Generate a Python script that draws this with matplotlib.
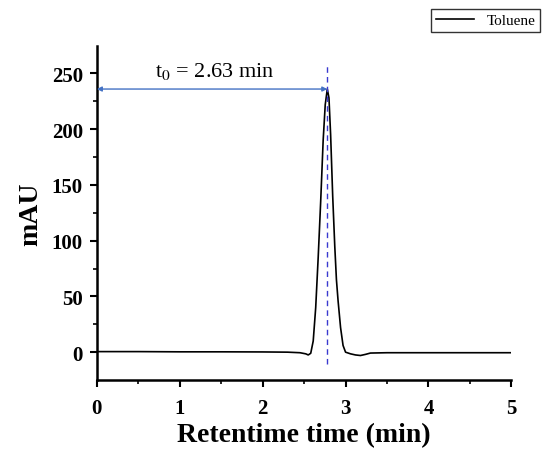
import numpy as np
import matplotlib.pyplot as plt

# chromatogram
time = [0.0, 0.5, 1.0, 1.5, 2.0, 2.3, 2.45, 2.52, 2.55, 2.58, 2.61, 2.64, 2.67,
        2.70, 2.73, 2.755, 2.78, 2.80, 2.82, 2.845, 2.87, 2.89, 2.91, 2.94, 2.97,
        3.00, 3.06, 3.12, 3.18, 3.24, 3.30, 3.5, 4.0, 4.5, 5.0]
mau = [0.5, 0.5, 0.3, 0.3, 0.2, 0.0, -0.5, -1.5, -2.5, -1.0, 10, 40, 85,
       135, 190, 222, 236, 228, 195, 140, 95, 65, 46, 22, 6,
       0.0, -1.5, -2.5, -3.0, -2.0, -0.8, -0.5, -0.5, -0.5, -0.5]

t0 = 2.78
t0_label = 't$_0$ = 2.63 min'

plt.rcParams['font.family'] = ['Liberation Serif', 'DejaVu Serif']
plt.rcParams['mathtext.fontset'] = 'stix'

fig = plt.figure(figsize=(5.44, 4.52), dpi=100)
ax = fig.add_axes([0.178, 0.157, 0.762, 0.74])

ax.plot(time, mau, color='black', lw=1.2, label='Toluene')
ax.vlines(t0, -11, 259, color='#3a3ad0', lw=1.0, linestyles=(0, (4, 3)))
ax.annotate('', xy=(t0, 236), xytext=(0, 236),
            arrowprops=dict(arrowstyle='<|-|>', color='#4472c4', lw=1.0,
                            mutation_scale=7, shrinkA=0, shrinkB=0))
ax.text(0.7, 243, t0_label, fontsize=16, va='bottom')

ax.set_xlim(0, 5)
ax.set_ylim(-25, 275)
ax.set_xticks([0, 1, 2, 3, 4, 5])
ax.set_xticks(np.arange(0.5, 5, 1), minor=True)
ax.set_yticks([0, 50, 100, 150, 200, 250])
ax.set_yticks(np.arange(25, 275, 50), minor=True)

for s in ['top', 'right']:
    ax.spines[s].set_visible(False)
for s in ['left', 'bottom']:
    ax.spines[s].set_linewidth(1.8)
ax.tick_params(which='major', length=5, width=1.5, labelsize=15)
ax.tick_params(axis='x', which='major', pad=8)
ax.tick_params(axis='y', which='major', pad=5)
ax.tick_params(which='minor', length=3, width=1.2)
for lab in ax.get_xticklabels() + ax.get_yticklabels():
    lab.set_fontweight('bold')

ax.set_xlabel('Retentime time (min)', fontsize=20, fontweight='bold', labelpad=3)
ax.set_ylabel('mAU', fontsize=20, fontweight='bold', labelpad=6)

fig.legend(loc='upper right', bbox_to_anchor=(0.998, 0.985), fontsize=11,
           frameon=True, fancybox=False, edgecolor='black', handlelength=2.5,
           borderpad=0.3, borderaxespad=0.2)

fig.savefig('out.png', dpi=100)
